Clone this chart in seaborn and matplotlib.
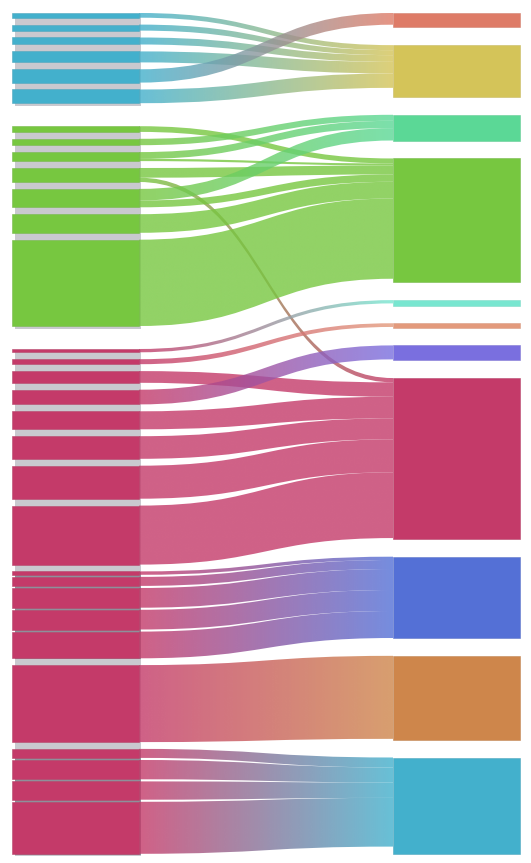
import numpy as np
import pandas as pd
import matplotlib
matplotlib.use("Agg")
import matplotlib.pyplot as plt
import seaborn as sns
from matplotlib.path import Path
from matplotlib.patches import PathPatch, Rectangle

sns.set_style("white")

# left column nodes (top to bottom) with their group / block
left_nodes = (["blue_%d" % i for i in range(1, 7)]
              + ["green_%d" % i for i in range(1, 8)]
              + ["pink_a%d" % i for i in range(1, 9)]
              + ["pink_b%d" % i for i in range(1, 6)]
              + ["pink_c1"]
              + ["pink_d%d" % i for i in range(1, 5)])
left_group = ["blue"] * 6 + ["green"] * 7 + ["pink"] * 18
left_block = ["b"] * 6 + ["g"] * 7 + ["pa"] * 8 + ["pb"] * 5 + ["pc"] + ["pd"] * 4
tight_blocks = ["pb", "pd"]

# right column nodes and their totals
right_nodes = ["orangered", "yellow", "teal", "green", "turquoise", "salmon",
               "purple", "pink", "blue", "orange", "cyan"]
right_values = [14.5, 52, 26, 124, 5.5, 4.5, 15, 161, 81.5, 84, 96]

# links: width where they leave the left node and where they reach the right node
link_source = ["blue_1", "blue_2", "blue_3", "blue_4", "blue_5", "blue_6",
               "green_1", "green_2", "green_3", "green_3", "green_4", "green_4",
               "green_5", "green_5", "green_6", "green_7",
               "pink_a1", "pink_a2", "pink_a3", "pink_a4", "pink_a5", "pink_a6",
               "pink_a7", "pink_a8",
               "pink_b1", "pink_b2", "pink_b3", "pink_b4", "pink_b5",
               "pink_c1",
               "pink_d1", "pink_d2", "pink_d3", "pink_d4"]
link_target = ["yellow", "yellow", "yellow", "yellow", "orangered", "yellow",
               "green", "teal", "teal", "green", "green", "pink",
               "teal", "green", "green", "green",
               "turquoise", "salmon", "pink", "purple", "pink", "pink",
               "pink", "pink",
               "blue", "blue", "blue", "blue", "blue",
               "orange",
               "cyan", "cyan", "cyan", "cyan"]
link_out = [4.7, 6, 7, 11, 13.3, 13.7,
            5.7, 6.4, 6.8, 2.2, 9.7, 4.3,
            11.6, 6.8, 18.6, 86.3,
            3.3, 5, 11.7, 14.7, 18, 22.6,
            33, 59,
            3.4, 9, 19.7, 19.7, 26.7,
            77,
            9, 19.3, 18.3, 52]
link_in = [5, 5, 6.7, 11.6, 11.7, 14.4,
           5, 6, 7.3, 2, 9, 4.3,
           12.4, 7.3, 16.7, 80.3,
           3.3, 3.7, 14.4, 14, 21.6, 21,
           33, 65.7,
           3.3, 9, 21, 21, 27,
           83,
           10, 15, 15.4, 48.7]

group_colors = {"blue": "#43b0cc", "green": "#77c740", "pink": "#c43a69"}
right_colors = {"orangered": "#de7b67", "yellow": "#d4c459", "teal": "#5bd896",
                "green": "#77c740", "turquoise": "#78e6d0", "salmon": "#e39a7c",
                "purple": "#7a6fdf", "pink": "#c43a69", "blue": "#5470d6",
                "orange": "#ce864b", "cyan": "#43b0cc"}

links = pd.DataFrame({"source": link_source, "target": link_target,
                      "w_out": link_out, "w_in": link_in})
links["si"] = links["source"].map({n: i for i, n in enumerate(left_nodes)})
links["ti"] = links["target"].map({n: i for i, n in enumerate(right_nodes)})
left_values = links.groupby("source")["w_out"].sum().reindex(left_nodes).values

# layout
top = 13
xl0, xl1 = 12, 139
xr0, xr1 = 393, 520

left_y = []
y = top
for i in range(len(left_nodes)):
    if i > 0:
        if left_group[i] != left_group[i - 1]:
            y += 23
        elif left_block[i] != left_block[i - 1]:
            y += 6.8
        elif left_block[i] in tight_blocks:
            y += 2.1
        else:
            y += 6.9
    left_y.append(y)
    y += left_values[i]
left_y = np.array(left_y)

right_gap = 17.65
right_y = top + np.concatenate([[0], np.cumsum(right_values)[:-1]]) + right_gap * np.arange(len(right_values))

links = links.sort_values(["si", "ti"])
links["s_off"] = links.groupby("si")["w_out"].cumsum() - links["w_out"]
links = links.sort_values(["ti", "si"])
links["t_off"] = links.groupby("ti")["w_in"].cumsum() - links["w_in"]
links = links.sort_index()

fig = plt.figure(figsize=(5.31, 8.63), dpi=100)
ax = fig.add_axes([0, 0, 1, 1])
ax.set_xlim(0, 531)
ax.set_ylim(863, 0)
ax.axis("off")

# grey backing of the left groups
for g in ["blue", "green", "pink"]:
    idx = [i for i in range(len(left_nodes)) if left_group[i] == g]
    y0 = left_y[idx[0]]
    y1 = left_y[idx[-1]] + left_values[idx[-1]]
    ax.add_patch(Rectangle((xl0 + 3, y0 + 1), xl1 - xl0 - 1, y1 - y0 + 1.5,
                           facecolor="#c9c9cf", edgecolor="none", zorder=1))
for b in tight_blocks:
    idx = [i for i in range(len(left_nodes)) if left_block[i] == b]
    y0 = left_y[idx[0]]
    y1 = left_y[idx[-1]] + left_values[idx[-1]]
    ax.add_patch(Rectangle((xl0 + 3, y0 + 1), xl1 - xl0 - 1, y1 - y0,
                           facecolor="#8f8f9b", edgecolor="none", zorder=1.5))

# links with a left-to-right colour gradient
xm = (xl1 + xr0) / 2
n_grad = 64
for _, r in links.iterrows():
    s0 = left_y[r.si] + r.s_off
    s1 = s0 + r.w_out
    t0 = right_y[r.ti] + r.t_off
    t1 = t0 + r.w_in
    verts = [(xl1, s0), (xm, s0), (xm, t0), (xr0, t0),
             (xr0, t1), (xm, t1), (xm, s1), (xl1, s1), (xl1, s0)]
    codes = [Path.MOVETO, Path.CURVE4, Path.CURVE4, Path.CURVE4,
             Path.LINETO, Path.CURVE4, Path.CURVE4, Path.CURVE4, Path.CLOSEPOLY]
    patch = PathPatch(Path(verts, codes), facecolor="none", edgecolor="none")
    ax.add_patch(patch)
    src_col = group_colors[left_group[r.si]]
    tgt_col = right_colors[r.target]
    grad = np.array(sns.blend_palette([src_col, tgt_col], n_grad))
    img = np.concatenate([grad, np.full((n_grad, 1), 0.8)], axis=1)[None, :, :]
    ymin, ymax = min(s0, t0) - 1, max(s1, t1) + 1
    im = ax.imshow(img, extent=(xl1, xr0, ymax, ymin), aspect="auto",
                   interpolation="bilinear", zorder=2)
    im.set_clip_path(patch)

# nodes
for i, n in enumerate(left_nodes):
    c = group_colors[left_group[i]]
    ax.add_patch(Rectangle((xl0, left_y[i]), xl1 - xl0, left_values[i],
                           facecolor=c, edgecolor=sns.desaturate(c, 0.8),
                           linewidth=0.4, zorder=3))
for i, n in enumerate(right_nodes):
    c = right_colors[n]
    ax.add_patch(Rectangle((xr0, right_y[i]), xr1 - xr0, right_values[i],
                           facecolor=c, edgecolor=sns.desaturate(c, 0.8),
                           linewidth=0.4, zorder=3))

ax.set_xlim(0, 531)
ax.set_ylim(863, 0)
fig.savefig("out.png", dpi=100)
